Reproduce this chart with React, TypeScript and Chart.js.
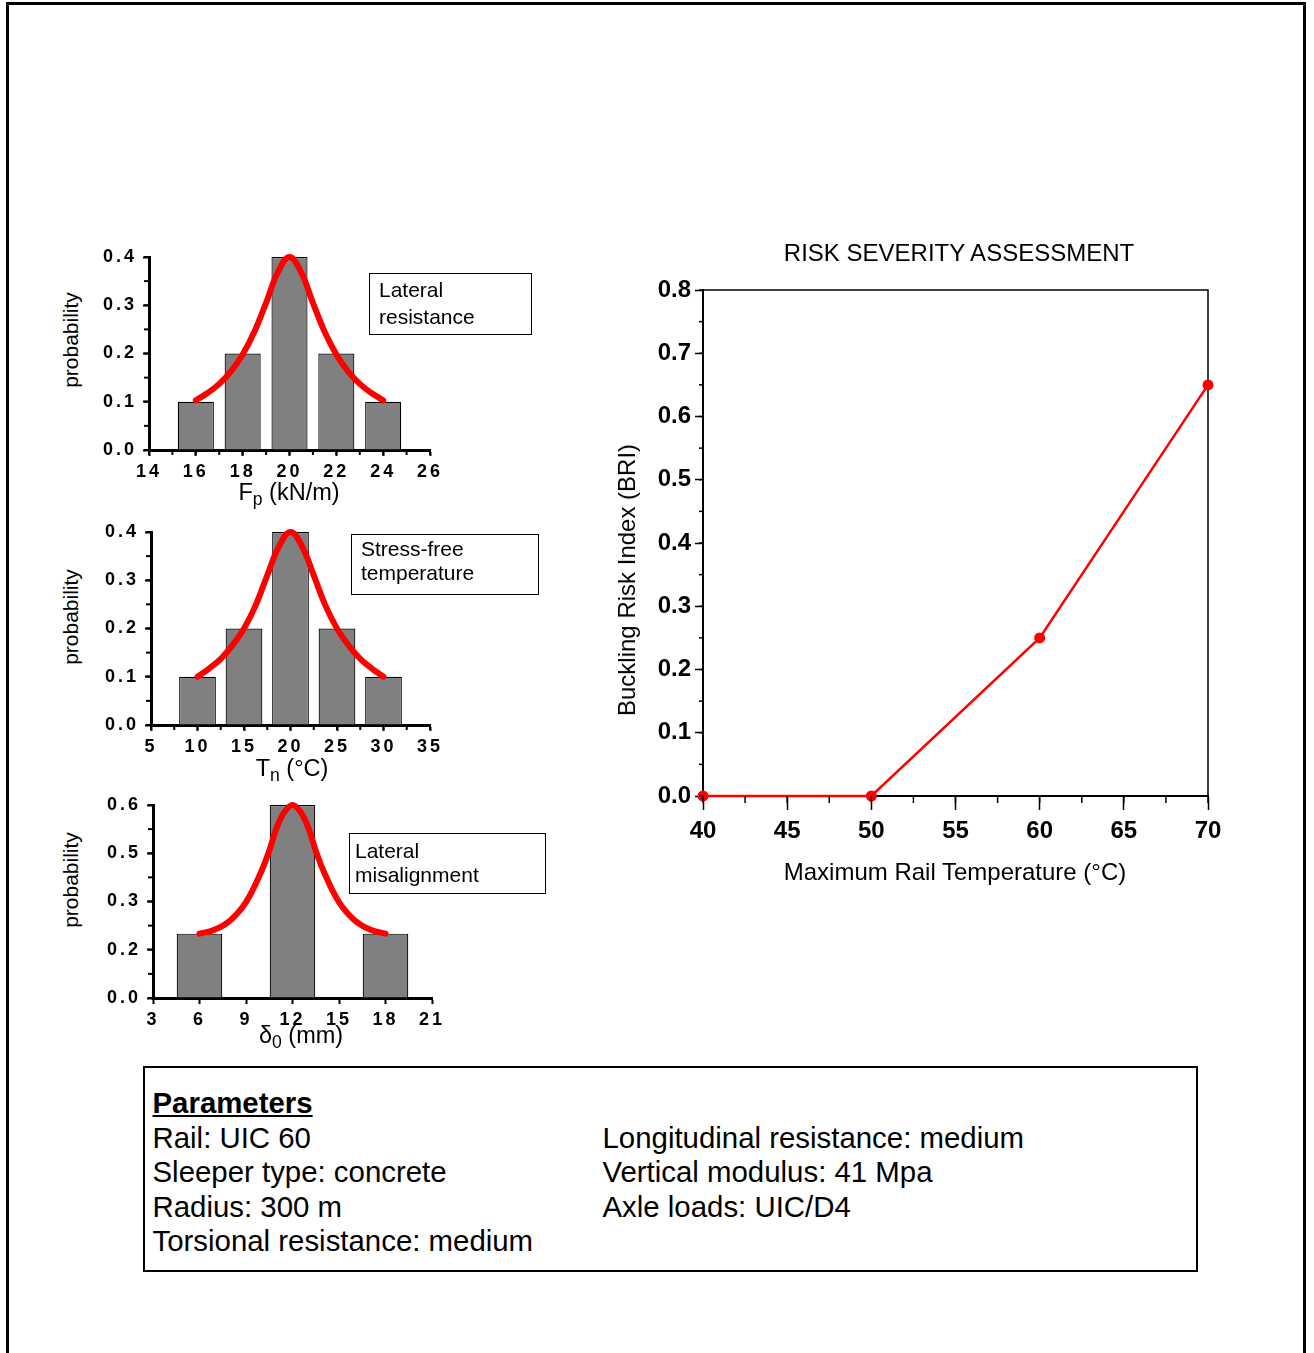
import React, { useEffect, useRef } from 'react';
import { Chart, registerables } from 'chart.js';

Chart.register(...registerables);

// ---------- Data ----------
// Histogram 1: lateral resistance Fp (kN/m)
const FP_BINS = [16, 18, 20, 22, 24];
const FP_PROB = [0.1, 0.2, 0.4, 0.2, 0.1];
const FP_CURVE_X = [16, 16.5, 17, 17.5, 18, 18.5, 19, 19.5, 20, 20.5, 21, 21.5, 22, 22.5, 23, 23.5, 24];
const FP_CURVE_Y = [0.103, 0.118, 0.137, 0.163, 0.198, 0.245, 0.305, 0.368, 0.4, 0.368, 0.305, 0.245, 0.198, 0.163, 0.137, 0.118, 0.103];
const FP_X_TICKS = ['14', '16', '18', '20', '22', '24', '26'];
const FP_Y_TICKS = ['0.0', '0.1', '0.2', '0.3', '0.4'];

// Histogram 2: stress-free temperature Tn (°C)
const TN_BINS = [10, 15, 20, 25, 30];
const TN_PROB = [0.1, 0.2, 0.4, 0.2, 0.1];
const TN_CURVE_X = [10, 11.25, 12.5, 13.75, 15, 16.25, 17.5, 18.75, 20, 21.25, 22.5, 23.75, 25, 26.25, 27.5, 28.75, 30];
const TN_CURVE_Y = [0.1, 0.117, 0.137, 0.165, 0.2, 0.248, 0.31, 0.37, 0.4, 0.37, 0.31, 0.248, 0.2, 0.165, 0.137, 0.117, 0.1];
const TN_X_TICKS = ['5', '10', '15', '20', '25', '30', '35'];
const TN_Y_TICKS = ['0.0', '0.1', '0.2', '0.3', '0.4'];

// Histogram 3: lateral misalignment δ0 (mm)
const D0_BINS = [6, 12, 18];
const D0_PROB = [0.2, 0.6, 0.2];
const D0_CURVE_X = [6, 7, 8, 9, 10, 10.5, 11, 11.5, 12, 12.5, 13, 13.5, 14, 15, 16, 17, 18];
const D0_CURVE_Y = [0.2, 0.213, 0.242, 0.298, 0.395, 0.458, 0.532, 0.58, 0.6, 0.58, 0.532, 0.458, 0.395, 0.298, 0.242, 0.213, 0.2];
const D0_X_TICKS = ['3', '6', '9', '12', '15', '18', '21'];
const D0_Y_TICKS = ['0.0', '0.2', '0.3', '0.5', '0.6'];

// Main chart: Buckling Risk Index vs maximum rail temperature
const TEMP_X = [40, 50, 60, 70];
const BRI_Y = [0, 0, 0.25, 0.65];
const TEMP_TICKS = ['40', '45', '50', '55', '60', '65', '70'];
const BRI_TICKS = ['0.0', '0.1', '0.2', '0.3', '0.4', '0.5', '0.6', '0.7', '0.8'];

const PARAMS_LEFT = ['Rail: UIC 60', 'Sleeper type: concrete', 'Radius: 300 m', 'Torsional resistance: medium'];
const PARAMS_RIGHT = ['Longitudinal resistance: medium', 'Vertical modulus: 41 Mpa', 'Axle loads: UIC/D4'];

// ---------- Styling ----------
const FONT = '"Liberation Sans", Arial, Helvetica, sans-serif';
const NARROW = '"Liberation Sans Narrow", "Liberation Sans", Arial, sans-serif';

// ---------- Plugins ----------
const minorTickPlugin = {
  id: 'minorTicks',
  afterDraw(chart: any, _args: any, opts: any) {
    const { ctx, chartArea } = chart;
    const xs = chart.scales.x;
    const ys = chart.scales.y;
    ctx.save();
    ctx.strokeStyle = '#000';
    ctx.lineWidth = opts.width || 1.5;
    if (opts.xStep) {
      const n = Math.round((xs.max - xs.min) / opts.xStep);
      for (let i = 0; i <= n; i++) {
        const px = xs.getPixelForValue(xs.min + i * opts.xStep);
        ctx.beginPath();
        ctx.moveTo(px, chartArea.bottom);
        ctx.lineTo(px, chartArea.bottom + opts.xLen);
        ctx.stroke();
      }
    }
    if (opts.yStep) {
      const n = Math.round((ys.max - ys.min) / opts.yStep);
      for (let i = 0; i <= n; i++) {
        const py = ys.getPixelForValue(ys.min + i * opts.yStep);
        ctx.beginPath();
        ctx.moveTo(chartArea.left, py);
        ctx.lineTo(chartArea.left - opts.yLen, py);
        ctx.stroke();
      }
    }
    ctx.restore();
  },
};

const spacingPlugin = {
  id: 'labelSpacing',
  beforeDraw(chart: any, _args: any, opts: any) {
    chart.ctx.letterSpacing = (opts && opts.value) || '0px';
  },
  afterDraw(chart: any) {
    chart.ctx.letterSpacing = '0px';
  },
};

const framePlugin = {
  id: 'frame',
  beforeDatasetsDraw(chart: any, _args: any, opts: any) {
    if (!opts || !opts.show) return;
    const { ctx, chartArea } = chart;
    ctx.save();
    ctx.strokeStyle = '#000';
    ctx.lineWidth = 1.5;
    ctx.beginPath();
    ctx.moveTo(chartArea.left, chartArea.top);
    ctx.lineTo(chartArea.right, chartArea.top);
    ctx.lineTo(chartArea.right, chartArea.bottom);
    ctx.stroke();
    ctx.restore();
  },
};

// ---------- Chart configs ----------
function histConfig(p: any) {
  const tickFont = { family: FONT, size: 18, weight: 'bold' as const };
  return {
    type: 'bar',
    data: {
      datasets: [
        {
          type: 'line',
          data: p.curveX.map((x: number, i: number) => ({ x, y: p.curveY[i] })),
          borderColor: '#ff0000',
          borderWidth: 6,
          pointRadius: 0,
          tension: 0.4,
          borderCapStyle: 'round',
          borderJoinStyle: 'round',
          fill: false,
          clip: false,
          order: 0,
        },
        {
          type: 'bar',
          data: p.bins.map((x: number, i: number) => ({ x, y: p.probs[i] })),
          backgroundColor: '#808080',
          borderColor: '#000000',
          borderWidth: 1.2,
          barPercentage: p.barPct,
          categoryPercentage: 1,
          order: 1,
        },
      ],
    },
    options: {
      responsive: false,
      animation: false,
      events: [],
      layout: { padding: { left: 0, top: p.padTop, right: p.padRight, bottom: 0 } },
      plugins: {
        legend: { display: false },
        tooltip: { enabled: false },
        minorTicks: p.minor,
        labelSpacing: { value: '3px' },
      },
      scales: {
        x: {
          type: 'linear',
          min: p.xMin,
          max: p.xMax,
          offset: false,
          grid: { display: true, offset: false, drawOnChartArea: false, drawTicks: true, tickLength: 6, tickWidth: 2, tickColor: '#000' },
          border: { display: true, color: '#000', width: 3 },
          ticks: {
            stepSize: p.xStep,
            autoSkip: false,
            maxRotation: 0,
            padding: 5,
            color: '#000',
            font: tickFont,
            callback: (_v: any, i: number) => p.xLabels[i],
          },
          afterFit: (s: any) => { s.height = p.xAxisH; },
        },
        y: {
          type: 'linear',
          min: 0,
          max: p.yMax,
          grid: { display: true, drawOnChartArea: false, drawTicks: true, tickLength: 6, tickWidth: 2, tickColor: '#000' },
          border: { display: true, color: '#000', width: 3 },
          ticks: {
            stepSize: p.yStep,
            autoSkip: false,
            padding: 6,
            color: '#000',
            font: tickFont,
            callback: (_v: any, i: number) => p.yLabels[i],
          },
          afterFit: (s: any) => { s.width = p.yAxisW; },
        },
      },
    },
    plugins: [minorTickPlugin, spacingPlugin],
  };
}

function mainConfig() {
  const tickFont = { family: NARROW, size: 24, weight: 'bold' as const };
  return {
    type: 'line',
    data: {
      datasets: [
        {
          data: TEMP_X.map((x, i) => ({ x, y: BRI_Y[i] })),
          borderColor: '#ff0000',
          backgroundColor: '#ff0000',
          borderWidth: 2.5,
          pointRadius: 5.5,
          pointBorderWidth: 0,
          pointBackgroundColor: '#ff0000',
          tension: 0,
          clip: false,
          fill: false,
        },
      ],
    },
    options: {
      responsive: false,
      animation: false,
      events: [],
      layout: { padding: { left: 0, top: 25, right: 42, bottom: 0 } },
      plugins: {
        legend: { display: false },
        tooltip: { enabled: false },
        minorTicks: { xStep: 2.5, xLen: 7, yStep: 0.05, yLen: 4, width: 1.5 },
        frame: { show: true },
      },
      scales: {
        x: {
          type: 'linear',
          min: 40,
          max: 70,
          grid: { display: true, drawOnChartArea: false, drawTicks: true, tickLength: 14, tickWidth: 1.5, tickColor: '#000' },
          border: { display: true, color: '#000', width: 2 },
          ticks: {
            stepSize: 5,
            autoSkip: false,
            maxRotation: 0,
            padding: 7,
            color: '#000',
            font: tickFont,
            callback: (_v: any, i: number) => TEMP_TICKS[i],
          },
          afterFit: (s: any) => { s.height = 69; },
        },
        y: {
          type: 'linear',
          min: 0,
          max: 0.8,
          grid: { display: true, drawOnChartArea: false, drawTicks: true, tickLength: 8, tickWidth: 1.5, tickColor: '#000' },
          border: { display: true, color: '#000', width: 2 },
          ticks: {
            stepSize: 0.1,
            autoSkip: false,
            padding: 4,
            color: '#000',
            font: tickFont,
            callback: (_v: any, i: number) => BRI_TICKS[i],
          },
          afterFit: (s: any) => { s.width = 93; },
        },
      },
    },
    plugins: [minorTickPlugin, framePlugin],
  };
}

// ---------- Components ----------
function ChartCanvas({ left, top, width, height, make }: { left: number; top: number; width: number; height: number; make: () => any }) {
  const ref = useRef<HTMLCanvasElement>(null);
  useEffect(() => {
    const chart = new Chart(ref.current as HTMLCanvasElement, make());
    return () => chart.destroy();
  }, []);
  return (
    <canvas
      ref={ref}
      width={width}
      height={height}
      style={{ position: 'absolute', left, top, width, height }}
    />
  );
}

function Centered({ x, y, size, rotate, children, bold }: { x: number; y: number; size: number; rotate?: boolean; children: any; bold?: boolean }) {
  return (
    <div
      style={{
        position: 'absolute',
        left: x,
        top: y,
        transform: `translate(-50%, -50%)${rotate ? ' rotate(-90deg)' : ''}`,
        fontSize: size,
        lineHeight: 1,
        whiteSpace: 'nowrap',
        fontWeight: bold ? 'bold' : 'normal',
      }}
    >
      {children}
    </div>
  );
}

function Sub({ children }: { children: any }) {
  return <span style={{ fontSize: '0.75em', position: 'relative', top: '0.3em' }}>{children}</span>;
}

function Box({ left, top, width, height, lines, lineHeight, padTop, padLeft }: { left: number; top: number; width: number; height: number; lines: string[]; lineHeight: number; padTop: number; padLeft: number }) {
  return (
    <div
      style={{
        position: 'absolute',
        left,
        top,
        width,
        height,
        boxSizing: 'border-box',
        border: '1.5px solid #000',
        paddingTop: padTop,
        paddingLeft: padLeft,
        fontSize: 21,
        lineHeight: `${lineHeight}px`,
        whiteSpace: 'nowrap',
      }}
    >
      {lines.map((l) => (
        <div key={l}>{l}</div>
      ))}
    </div>
  );
}

export default function App() {
  return (
    <div
      style={{
        position: 'absolute',
        left: 0,
        top: 0,
        width: 1314,
        height: 1353,
        overflow: 'hidden',
        background: '#fff',
        fontFamily: FONT,
        color: '#000',
      }}
    >
      {/* outer frame */}
      <div
        style={{
          position: 'absolute',
          left: 6,
          top: 2,
          width: 1300,
          height: 1400,
          boxSizing: 'border-box',
          borderTop: '3px solid #000',
          borderLeft: '3px solid #000',
          borderRight: '3px solid #000',
        }}
      />

      {/* Histogram 1 */}
      <ChartCanvas
        left={90}
        top={235}
        width={360}
        height={270}
        make={() =>
          histConfig({
            bins: FP_BINS, probs: FP_PROB, curveX: FP_CURVE_X, curveY: FP_CURVE_Y,
            xMin: 14, xMax: 26, xStep: 2, xLabels: FP_X_TICKS,
            yMax: 0.4, yStep: 0.1, yLabels: FP_Y_TICKS,
            barPct: 0.77, yAxisW: 59, padTop: 22, padRight: 20, xAxisH: 55,
            minor: { xStep: 1, xLen: 5, yStep: 0.05, yLen: 5, width: 2 },
          })
        }
      />
      {/* Histogram 2 */}
      <ChartCanvas
        left={90}
        top={510}
        width={360}
        height={270}
        make={() =>
          histConfig({
            bins: TN_BINS, probs: TN_PROB, curveX: TN_CURVE_X, curveY: TN_CURVE_Y,
            xMin: 5, xMax: 35, xStep: 5, xLabels: TN_X_TICKS,
            yMax: 0.4, yStep: 0.1, yLabels: TN_Y_TICKS,
            barPct: 0.79, yAxisW: 61, padTop: 22, padRight: 20, xAxisH: 55,
            minor: { xStep: 2.5, xLen: 5, yStep: 0.05, yLen: 5, width: 2 },
          })
        }
      />
      {/* Histogram 3 */}
      <ChartCanvas
        left={90}
        top={783}
        width={360}
        height={270}
        make={() =>
          histConfig({
            bins: D0_BINS, probs: D0_PROB, curveX: D0_CURVE_X, curveY: D0_CURVE_Y,
            xMin: 3, xMax: 21, xStep: 3, xLabels: D0_X_TICKS,
            yMax: 0.6, yStep: 0.15, yLabels: D0_Y_TICKS,
            barPct: 0.98, yAxisW: 63, padTop: 22, padRight: 18, xAxisH: 55,
            minor: { yStep: 0.075, yLen: 5, width: 2 },
          })
        }
      />
      {/* Main chart */}
      <ChartCanvas left={610} top={265} width={640} height={600} make={mainConfig} />

      {/* Histogram axis titles */}
      <Centered x={70} y={340} size={21} rotate>probability</Centered>
      <Centered x={70} y={617} size={21} rotate>probability</Centered>
      <Centered x={70} y={880} size={21} rotate>probability</Centered>
      <Centered x={289} y={493} size={23.5}>F<Sub>p</Sub> (kN/m)</Centered>
      <Centered x={292} y={769} size={23.5}>T<Sub>n</Sub> (°C)</Centered>
      <Centered x={301} y={1036} size={23.5}>δ<Sub>0</Sub> (mm)</Centered>

      {/* Legend-like boxes */}
      <Box left={369} top={273} width={163} height={62} lines={['Lateral', 'resistance']} lineHeight={27} padTop={2} padLeft={9} />
      <Box left={351} top={534} width={188} height={61} lines={['Stress-free', 'temperature']} lineHeight={24} padTop={2} padLeft={9} />
      <Box left={349} top={833} width={197} height={61} lines={['Lateral', 'misalignment']} lineHeight={24} padTop={5} padLeft={5} />

      {/* Main chart texts */}
      <Centered x={959} y={253} size={24}>RISK SEVERITY ASSESSMENT</Centered>
      <Centered x={627} y={580} size={24} rotate>Buckling Risk Index (BRI)</Centered>
      <Centered x={955} y={872} size={24}>Maximum Rail Temperature (°C)</Centered>

      {/* Parameters box */}
      <div
        style={{
          position: 'absolute',
          left: 143,
          top: 1066,
          width: 1055,
          height: 206,
          boxSizing: 'border-box',
          border: '2.5px solid #000',
          fontSize: 29.4,
          lineHeight: '34.5px',
          whiteSpace: 'nowrap',
        }}
      >
        <div style={{ position: 'absolute', left: 7.5, top: 18 }}>
          <div style={{ fontWeight: 'bold', textDecoration: 'underline' }}>Parameters</div>
          {PARAMS_LEFT.map((t) => (
            <div key={t}>{t}</div>
          ))}
        </div>
        <div style={{ position: 'absolute', left: 457.5, top: 52.5 }}>
          {PARAMS_RIGHT.map((t) => (
            <div key={t}>{t}</div>
          ))}
        </div>
      </div>
    </div>
  );
}
